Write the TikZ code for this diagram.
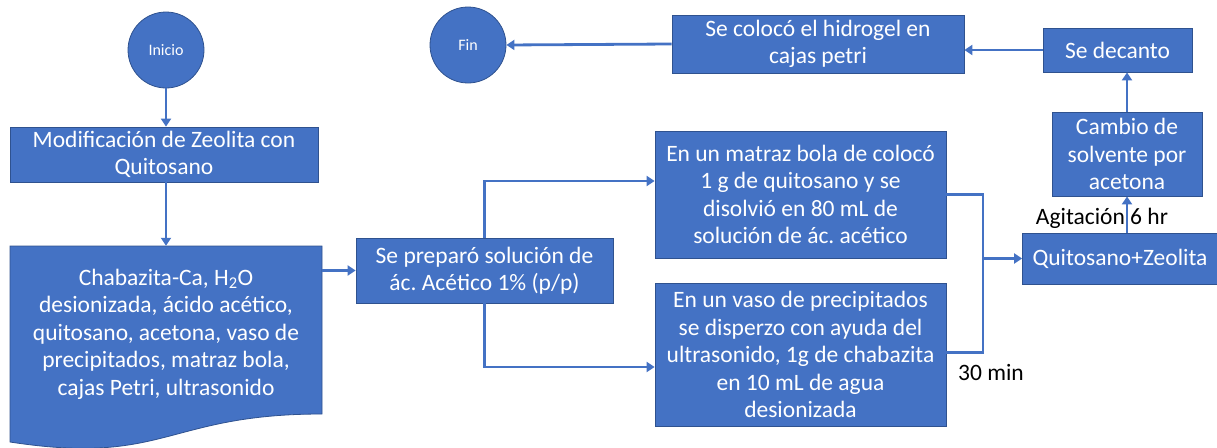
\documentclass[tikz,border=0pt]{standalone}
\usepackage{fontspec}
\setmainfont{Carlito}
\usetikzlibrary{arrows.meta}
\frenchspacing
\definecolor{obl}{HTML}{4472C4}
\definecolor{obd}{HTML}{2F528F}
\tikzset{
  box/.style={draw=obd, line width=0.8pt, fill=obl, text=white, align=center, inner sep=1pt,
    font=\fontsize{23.5}{27.5}\selectfont},
  term/.style={circle, draw=obd, line width=0.8pt, fill=obl, text=white, minimum size=76pt, inner sep=0pt,
    font=\fontsize{16}{18}\selectfont},
  conn/.style={draw=obl, line width=2.8pt},
  arr/.style={conn, -{Triangle[width=10pt,length=8pt]}},
  lbl/.style={text=black, font=\fontsize{23.5}{27}\selectfont, inner sep=0pt}
}
\begin{document}
\begin{tikzpicture}[x=1pt,y=-1pt]
\useasboundingbox (0,0) rectangle (1217,447);
% terminals
\node[term] (ini) at (166,50) {Inicio};
\node[term] (fin) at (468,45) {Fin};
% boxes
\node[box, minimum width=308pt, minimum height=55pt] (mod) at (164,154.5) {Modificación de Zeolita con\\Quitosano};
% document shape
\fill[obl, draw=obd, line width=0.8pt] (10,246) -- (322,246) -- (322,414) .. controls (166,414) and (166,466) .. (10,442) -- cycle;
\node[minimum width=312pt, minimum height=168pt, inner sep=0pt] (doc) at (166,330) {};
\node[text=white, align=center, font=\fontsize{23.5}{27.5}\selectfont] (doctext) at (166,334) {Chabazita-Ca, H\textsubscript{2}O\\desionizada, ácido acético,\\quitosano, acetona, vaso de\\precipitados, matraz bola,\\cajas Petri, ultrasonido};
\node[box, minimum width=257pt, minimum height=65pt] (prep) at (484.5,270.5) {Se preparó solución de\\ác. Acético 1\% (p/p)};
\node[box, minimum width=291pt, minimum height=127pt] (mat) at (800.5,194.5) {En un matraz bola de colocó\\1 g de quitosano y se\\disolvió en 80 mL de\\solución de ác. acético};
\node[box, minimum width=291pt, minimum height=143pt] (vaso) at (800.5,354.5) {En un vaso de precipitados\\se disperzo con ayuda del\\ultrasonido, 1g de chabazita\\en 10 mL de agua\\desionizada};
\node[box, minimum width=195pt, minimum height=51pt] (qz) at (1120,258.5) {Quitosano+Zeolita};
\node[box, minimum width=150pt, minimum height=84pt] (cam) at (1127,154) {Cambio de\\solvente por\\acetona};
\node[box, minimum width=149pt, minimum height=44pt] (dec) at (1117.5,50) {Se decanto};
\node[box, minimum width=292pt, minimum height=58pt] (hid) at (818,44) {Se colocó el hidrogel en\\cajas petri};
% labels
\node[lbl] (agit) at (1102,218) {Agitación 6 hr};
\node[lbl] (tmin) at (991,372) {30 min};
% connectors
\draw[arr] (ini.south) -- (ini.south |- mod.north);
\draw[arr] (mod.south -| ini.south) -- (doc.north -| ini.south);
\draw[arr] (prep.west -| doc.east) -- (prep.west);
\draw[arr] (prep.north) |- ([yshift=13.5pt]mat.west);
\draw[arr] (prep.south) |- ([yshift=-12.5pt]vaso.west);
\coordinate (j) at (983,258.5);
\draw[conn] (mat.east) -| (j);
\draw[conn] ([yshift=2pt]vaso.east) -| (j);
\draw[arr] (j) -- (qz.west);
\draw[arr] (qz.north -| cam.south) -- (cam.south);
\draw[arr] (cam.north) -- (cam.north |- dec.south);
\draw[arr] (dec.west) -- (dec.west -| hid.east);
\draw[arr] (hid.west) -- (fin.east);
\end{tikzpicture}
\end{document}
